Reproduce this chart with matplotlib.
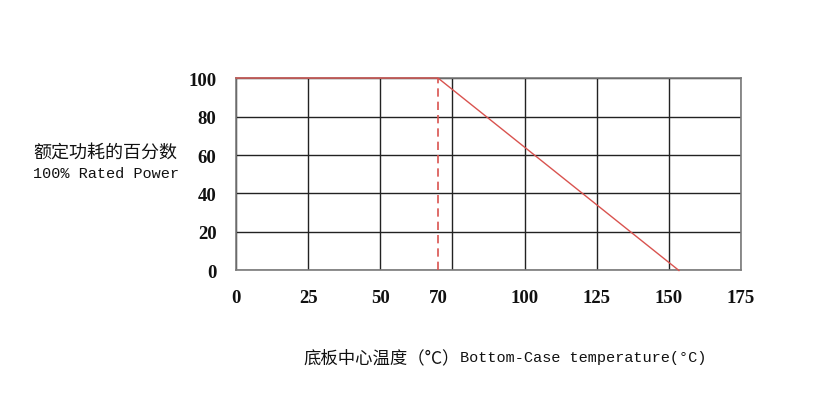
import matplotlib.pyplot as plt
import numpy as np

# derating curve values
temp = [0, 70, 153.5]
power = [100, 100, 0]
knee_temp = 70

x_grid = [0, 25, 50, 75, 100, 125, 150, 175]
x_tick_pos = [0, 25, 50, 70, 100, 125, 150, 175]
x_tick_labels = ['0', '25', '50', '70', '100', '125', '150', '175']
y_ticks = [0, 20, 40, 60, 80, 100]

fig = plt.figure(figsize=(8.14, 4.06), dpi=100)
ax = fig.add_axes([0.2899, 0.3313, 0.6204, 0.4741])

ax.set_xlim(0, 175)
ax.set_ylim(0, 100)

ax.set_xticks(x_tick_pos)
ax.set_xticklabels(x_tick_labels)
ax.set_yticks(y_ticks)
ax.vlines(x_grid, 0, 100, color='#222222', lw=1, zorder=1)
ax.grid(which='major', axis='y', color='#222222', lw=1)
ax.tick_params(which='both', length=0)
ax.tick_params(axis='x', pad=13)
ax.tick_params(axis='y', pad=14)
for lab in ax.get_xticklabels() + ax.get_yticklabels():
    lab.set_fontfamily('Liberation Serif')
    lab.set_fontweight('bold')
    lab.set_fontsize(13.5)
    lab.set_color('#111111')
for sp in ax.spines.values():
    sp.set_color('#7a7a7a')
    sp.set_linewidth(1.2)
    sp.set_zorder(2)

ax.plot(temp, power, color='#d9534f', lw=1, clip_on=False, zorder=5)
ax.plot([knee_temp, knee_temp], [0, 100], color='#d9534f', lw=1.2,
        linestyle=(0, (5, 3)), zorder=5)

fig.text(33 / 814, 1 - 153 / 406, '额定功耗的百分数', family=['Noto Sans CJK SC'],
         fontsize=13, ha='left', va='center', color='#111111')
fig.text(33 / 814, 1 - 174 / 406, '100% Rated Power', family=['Liberation Mono'],
         fontsize=11, ha='left', va='center', color='#111111')

fig.text(303 / 814, 1 - 358 / 406, '底板中心温度（°C）', family=['Noto Sans CJK SC'],
         fontsize=12.5, ha='left', va='center', color='#111111')
fig.text(706 / 814, 1 - 358 / 406, 'Bottom-Case temperature(°C)',
         family=['Liberation Mono'], fontsize=11, ha='right', va='center',
         color='#111111')

fig.savefig('out.png', dpi=100)
